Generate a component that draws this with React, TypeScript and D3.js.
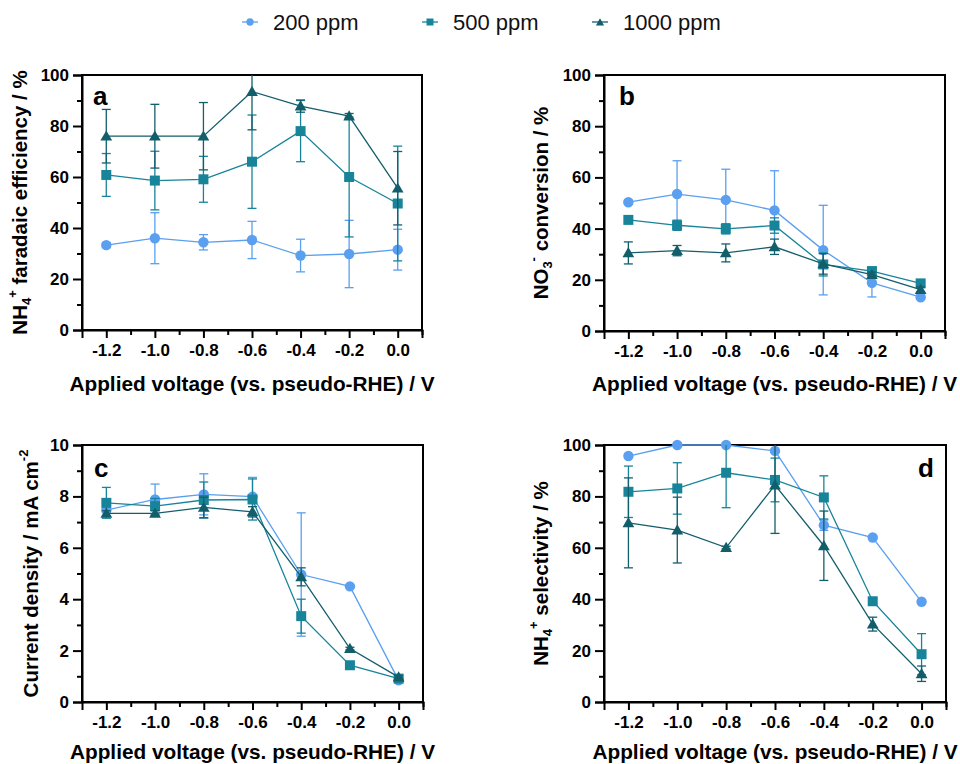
import React, { useRef, useEffect } from "react";
import * as d3 from "d3";

// applied voltage (V vs pseudo-RHE)
const voltages = [-1.2, -1.0, -0.8, -0.6, -0.4, -0.2, 0.0];
const seriesNames = ["200 ppm", "500 ppm", "1000 ppm"];

// a: NH4+ faradaic efficiency (%)
const fe200 = [33.3, 36.0, 34.4, 35.3, 29.2, 29.8, 31.5];
const fe200Err = [1, 10, 3, 7.3, 6.4, 13.2, 8];
const fe500 = [60.8, 58.6, 59.1, 66.0, 78.0, 60.0, 49.6];
const fe500Err = [8.4, 11.5, 9, 18.3, 12, 23.5, 22.5];
const fe1000 = [76, 76, 76, 93.5, 87.8, 83.9, 55.6];
const fe1000Err = [10.5, 12.5, 13.2, 15, 2.4, 1, 14.4];

// b: NO3- conversion (%)
const conv200 = [50.3, 53.5, 51.2, 47.1, 31.6, 18.8, 13.2];
const conv200Err = [0.8, 13, 12, 15.5, 17.5, 5.5, 0.8];
const conv500 = [43.4, 41.3, 39.9, 41.2, 26.0, 23.4, 18.6];
const conv500Err = [1, 2, 2, 3, 4.5, 1.5, 1];
const conv1000 = [30.5, 31.4, 30.5, 32.9, 26.2, 22.0, 16.2];
const conv1000Err = [4.3, 2, 3.5, 3, 4, 1, 1];

// c: current density (mA cm-2)
const cd200 = [7.47, 7.88, 8.08, 7.99, 4.96, 4.5, 0.84];
const cd200Err = [0.1, 0.6, 0.8, 0.75, 2.4, 0.05, 0.05];
const cd500 = [7.75, 7.62, 7.86, 7.88, 3.34, 1.43, 0.91];
const cd500Err = [0.6, 0.3, 0.7, 0.8, 0.66, 0.05, 0.05];
const cd1000 = [7.34, 7.34, 7.57, 7.4, 4.87, 2.08, 0.97];
const cd1000Err = [0.1, 0.1, 0.4, 0.2, 0.35, 0.05, 0.05];

// d: NH4+ selectivity (%)
const sel200 = [95.7, 100, 100, 97.7, 68.8, 64.0, 39.0];
const sel200Err = [0.5, 0, 0, 0.5, 2, 0.5, 0.5];
const sel500 = [81.8, 83.1, 89.2, 86.4, 79.6, 39.2, 18.6];
const sel500Err = [10, 10, 13.6, 8.5, 8.4, 1, 8];
const sel1000 = [69.7, 66.9, 60.1, 84.4, 60.8, 30.3, 11.0];
const sel1000Err = [17.5, 12.8, 0.5, 18.8, 13.5, 2.7, 3];

const colors = ["#5a9ff0", "#17849a", "#135e6b"];
const font = "'Liberation Sans', Arial, sans-serif";

const panels = [
  {
    key: "a", box: [82, 75, 422, 330], yMax: 100, yStep: 20,
    vals: [fe200, fe500, fe1000], errs: [fe200Err, fe500Err, fe1000Err],
    label: [93, 105, "start"], titleX: 22, xTitleY: 391,
    title: [["NH", 0], ["4", 1], ["+", -1], [" faradaic efficiency / %", 0]],
  },
  {
    key: "b", box: [604, 75, 945, 331], yMax: 100, yStep: 20,
    vals: [conv200, conv500, conv1000], errs: [conv200Err, conv500Err, conv1000Err],
    label: [619, 105, "start"], titleX: 543, xTitleY: 391,
    title: [["NO", 0], ["3", 1], ["-", -1], [" conversion / %", 0]],
  },
  {
    key: "c", box: [82, 445, 423, 702], yMax: 10, yStep: 2,
    vals: [cd200, cd500, cd1000], errs: [cd200Err, cd500Err, cd1000Err],
    label: [94, 477, "start"], titleX: 33, xTitleY: 759,
    title: [["Current density / mA cm", 0], ["-2", -1]],
  },
  {
    key: "d", box: [604, 445, 946, 702], yMax: 100, yStep: 20,
    vals: [sel200, sel500, sel1000], errs: [sel200Err, sel500Err, sel1000Err],
    label: [934, 477, "end"], titleX: 543, xTitleY: 759,
    title: [["NH", 0], ["4", 1], ["+", -1], [" selectivity / %", 0]],
  },
];

function drawMarker(g, i, x, y, scale = 1) {
  if (i === 0) {
    g.append("circle").attr("cx", x).attr("cy", y).attr("r", 5.2 * scale).attr("fill", colors[0]);
  } else {
    const sym = i === 1 ? d3.symbolSquare : d3.symbolTriangle;
    const size = i === 1 ? 100 : 60;
    g.append("path")
      .attr("d", d3.symbol(sym, size * scale * scale)())
      .attr("transform", `translate(${x},${y + (i === 2 ? 1 : 0)})`)
      .attr("fill", colors[i]);
  }
}

export default function App() {
  const svgRef = useRef(null);

  useEffect(() => {
    const svg = d3.select(svgRef.current);
    svg.selectAll("*").remove();

    // legend
    const lg = svg.append("g");
    const legendX = [242, 422, 592];
    seriesNames.forEach((name, i) => {
      const x0 = legendX[i];
      lg.append("line").attr("x1", x0).attr("x2", x0 + 16).attr("y1", 22).attr("y2", 22)
        .attr("stroke", colors[i]).attr("stroke-width", 1.3);
      drawMarker(lg, i, x0 + 8, 22, 0.7);
      lg.append("text").attr("x", x0 + 31).attr("y", 30).text(name)
        .attr("font-family", font).attr("font-size", 22).attr("fill", "#111");
    });

    panels.forEach((p) => {
      const [x0, y0, x1, y1] = p.box;
      const x = d3.scaleLinear().domain([-1.3, 0.1]).range([x0, x1]);
      const y = d3.scaleLinear().domain([0, p.yMax]).range([y1, y0]);
      const g = svg.append("g");

      const clipId = "clip-" + p.key;
      g.append("clipPath").attr("id", clipId).append("rect")
        .attr("x", x0).attr("y", y0).attr("width", x1 - x0).attr("height", y1 - y0);

      // frame
      g.append("rect").attr("x", x0).attr("y", y0).attr("width", x1 - x0).attr("height", y1 - y0)
        .attr("fill", "none").attr("stroke", "#000").attr("stroke-width", 2);

      // y axis
      const yMajor = d3.range(0, p.yMax + 0.001, p.yStep);
      const yMinor = d3.range(p.yStep / 2, p.yMax, p.yStep);
      const ya = g.append("g").attr("transform", `translate(${x0},0)`)
        .call(d3.axisLeft(y).tickValues(yMajor).tickSize(9).tickPadding(4).tickFormat(d3.format("d")));
      g.append("g").attr("transform", `translate(${x0},0)`)
        .call(d3.axisLeft(y).tickValues(yMinor).tickSize(5).tickFormat(() => ""))
        .call((s) => s.select(".domain").remove());

      // x axis
      const xMinor = d3.range(-1.1, 0.15, 0.2);
      const xa = g.append("g").attr("transform", `translate(0,${y1})`)
        .call(d3.axisBottom(x).tickValues(voltages).tickSize(8).tickPadding(6)
          .tickFormat((d) => (Math.abs(d) < 1e-9 ? "0.0" : d.toFixed(1))));
      g.append("g").attr("transform", `translate(0,${y1})`)
        .call(d3.axisBottom(x).tickValues(xMinor).tickSize(5).tickFormat(() => ""))
        .call((s) => s.select(".domain").remove());

      g.selectAll(".domain").attr("stroke-width", 2);
      g.selectAll(".tick line").attr("stroke-width", 2);
      [ya, xa].forEach((a) => a.selectAll("text")
        .attr("font-family", font).attr("font-size", 17).attr("font-weight", "bold").attr("fill", "#000"));

      // x title
      g.append("text").attr("x", (x0 + x1) / 2).attr("y", p.xTitleY).attr("text-anchor", "middle")
        .attr("font-family", font).attr("font-size", 20.8).attr("font-weight", "bold")
        .text("Applied voltage (vs. pseudo-RHE) / V");

      // y title
      const yt = g.append("text")
        .attr("transform", `translate(${p.titleX},${(y0 + y1) / 2}) rotate(-90)`)
        .attr("text-anchor", "middle").attr("dominant-baseline", "middle")
        .attr("font-family", font).attr("font-size", 20.5).attr("font-weight", "bold");
      let shift = 0;
      p.title.forEach(([t, kind]) => {
        const ts = yt.append("tspan").text(t);
        const target = kind === 1 ? 6 : kind === -1 ? -8 : 0;
        if (target !== shift) ts.attr("dy", target - shift);
        shift = target;
        if (kind !== 0) ts.attr("font-size", 13);
      });

      // panel letter
      g.append("text").attr("x", p.label[0]).attr("y", p.label[1]).attr("text-anchor", p.label[2])
        .attr("font-family", font).attr("font-size", 26).attr("font-weight", "bold").text(p.key);

      // series
      p.vals.forEach((vals, si) => {
        const errs = p.errs[si];
        const sg = g.append("g");
        const eg = sg.append("g").attr("clip-path", `url(#${clipId})`)
          .attr("stroke", colors[si]).attr("stroke-width", 1.3);
        vals.forEach((v, i) => {
          const e = errs[i];
          if (e <= 0) return;
          const cx = x(voltages[i]);
          eg.append("line").attr("x1", cx).attr("x2", cx).attr("y1", y(v - e)).attr("y2", y(v + e));
          [v - e, v + e].forEach((yy) => eg.append("line")
            .attr("x1", cx - 4.5).attr("x2", cx + 4.5).attr("y1", y(yy)).attr("y2", y(yy)));
        });
        const line = d3.line().x((d, i) => x(voltages[i])).y((d) => y(d));
        sg.append("path").attr("d", line(vals)).attr("fill", "none")
          .attr("stroke", colors[si]).attr("stroke-width", 1.3);
        vals.forEach((v, i) => drawMarker(sg, si, x(voltages[i]), y(v)));
      });
    });
  }, []);

  return (
    <svg ref={svgRef} width={960} height={764}
      style={{ position: "absolute", left: 0, top: 0, background: "#fff" }} />
  );
}
